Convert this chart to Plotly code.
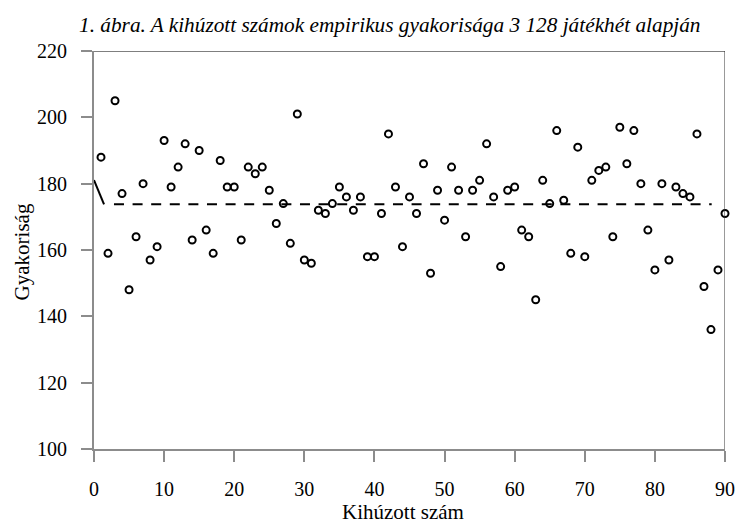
import plotly.graph_objects as go

numbers = list(range(1, 91))
frequencies = [
    188, 159, 205, 177, 148, 164, 180, 157, 161, 193,
    179, 185, 192, 163, 190, 166, 159, 187, 179, 179,
    163, 185, 183, 185, 178, 168, 174, 162, 201, 157,
    156, 172, 171, 174, 179, 176, 172, 176, 158, 158,
    171, 195, 179, 161, 176, 171, 186, 153, 178, 169,
    185, 178, 164, 178, 181, 192, 176, 155, 178, 179,
    166, 164, 145, 181, 174, 196, 175, 159, 191, 158,
    181, 184, 185, 164, 197, 186, 196, 180, 166, 154,
    180, 157, 179, 177, 176, 195, 149, 136, 154, 171,
]
mean_value = 3128 * 5 / 90

slant_x = [0, 1.43]
slant_y = [181.1, mean_value]
mean_x = [2.85, 88.1]
mean_y = [mean_value, mean_value]

x_ticks = list(range(0, 91, 10))
y_ticks = list(range(100, 221, 20))

title_text = "1. ábra. A kihúzott számok empirikus gyakorisága 3 128 játékhét alapján"
x_title = "Kihúzott szám"
y_title = "Gyakoriság"

FONT = "Liberation Serif, Times New Roman, serif"
AXIS_GRAY = "#8c8c8c"

W, H = 737, 526
ML, MR, MT, MB = 94, 12, 51, 77
PW = W - ML - MR
PH = H - MT - MB


def px_x(px):
    return (px - ML) / PW


def px_y(py):
    return (H - MB - py) / PH


fig = go.Figure()
fig.add_trace(go.Scatter(x=slant_x, y=slant_y, mode="lines",
                         line=dict(color="black", width=2), hoverinfo="skip",
                         showlegend=False))
fig.add_trace(go.Scatter(x=mean_x, y=mean_y, mode="lines",
                         line=dict(color="black", width=2, dash="10px,8.6px"),
                         showlegend=False))
fig.add_trace(go.Scatter(x=numbers, y=frequencies, mode="markers",
                         marker=dict(symbol="circle-open", size=7, color="black",
                                     line=dict(width=2, color="black")),
                         showlegend=False, cliponaxis=False))

fig.update_layout(
    width=W, height=H,
    margin=dict(l=ML, r=MR, t=MT, b=MB, autoexpand=False),
    paper_bgcolor="white", plot_bgcolor="white",
    font=dict(family=FONT, size=20, color="black"),
    showlegend=False,
    annotations=[
        dict(text="<i>" + title_text + "</i>", x=px_x(390), y=px_y(25),
             xref="paper", yref="paper", showarrow=False,
             font=dict(family=FONT, size=21.3, color="black"),
             xanchor="center", yanchor="middle"),
        dict(text=x_title, x=px_x(403), y=px_y(512),
             xref="paper", yref="paper", showarrow=False,
             font=dict(family=FONT, size=21, color="black"),
             xanchor="center", yanchor="middle"),
        dict(text=y_title, x=px_x(21.7), y=px_y(251.7), textangle=-90,
             xref="paper", yref="paper", showarrow=False,
             font=dict(family=FONT, size=21, color="black"),
             xanchor="center", yanchor="middle"),
    ],
    shapes=[
        dict(type="line", xref="x", yref="y", x0=0, x1=90, y0=220, y1=220,
             line=dict(color="black", width=1)),
        dict(type="line", xref="x", yref="y", x0=90, x1=90, y0=100, y1=220,
             line=dict(color="#333333", width=1)),
    ],
)

fig.update_xaxes(
    range=[0, 90], tickvals=x_ticks, ticktext=[str(v) for v in x_ticks],
    showgrid=False, zeroline=False, automargin=False,
    showline=True, linecolor=AXIS_GRAY, linewidth=2,
    ticks="outside", ticklen=11, tickwidth=2, tickcolor=AXIS_GRAY,
    ticklabelstandoff=10,
)
fig.update_yaxes(
    range=[100, 220], tickvals=y_ticks, ticktext=[str(v) for v in y_ticks],
    showgrid=False, zeroline=False, automargin=False,
    showline=True, linecolor=AXIS_GRAY, linewidth=2,
    ticks="outside", ticklen=11, tickwidth=2, tickcolor=AXIS_GRAY,
    ticklabelstandoff=10,
)

fig.write_html("out.html",
               config={"displayModeBar": False},
               post_script="document.body.style.margin='0';document.body.style.padding='0';")
